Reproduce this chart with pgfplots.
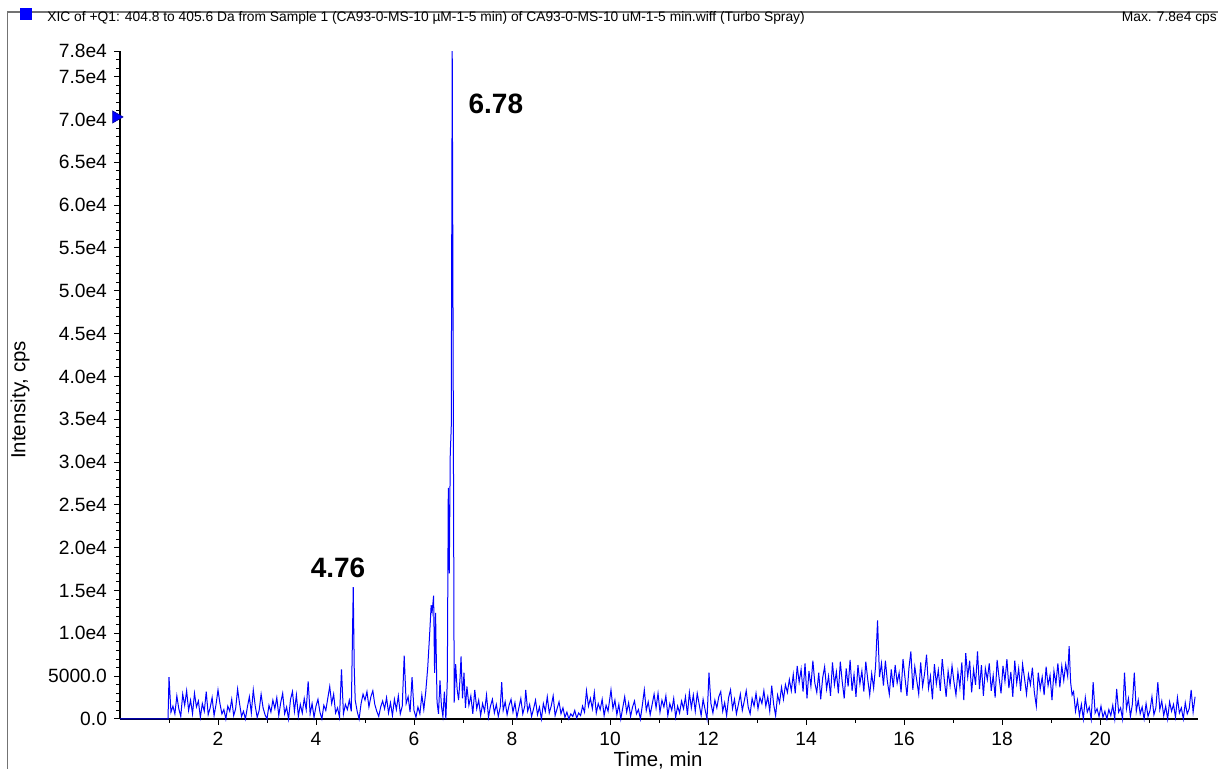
\documentclass[border=0pt]{standalone}
\usepackage{pgfplots}
\pgfplotsset{compat=1.18}
\usepackage{fontspec}
\setmainfont{Liberation Sans}
\definecolor{trace}{RGB}{0,0,255}
\begin{document}
\begin{tikzpicture}[x=1pt,y=1pt]
\useasboundingbox (0,0) rectangle (609,384.5);
\draw[black!55, line width=0.6pt] (3.75,0) -- (3.75,378.5) -- (609,378.5);
\fill[trace] (10,374.5) rectangle (16,380.5);
\node[anchor=west, inner sep=0pt, font=\fontsize{6.9}{8}\selectfont] at (23.5,375.5) {XIC of +Q1: 404.8 to 405.6 Da from Sample 1 (CA93-0-MS-10 µM-1-5 min) of CA93-0-MS-10 uM-1-5 min.wiff (Turbo Spray)};
\node[anchor=east, inner sep=0pt, font=\fontsize{6.9}{8}\selectfont] at (610.5,375.5) {Max. 7.8e4 cps.};
\begin{axis}[
  at={(60pt,25pt)}, anchor=south west,
  scale only axis, width=539pt, height=334pt,
  xmin=0, xmax=22, ymin=0, ymax=78000,
  axis x line=bottom, axis y line=left,
  axis line style={-, line width=0.6pt},
  tick align=outside,
  major tick length=3pt, minor tick length=2pt,
  tick style={black, line width=0.5pt},
  xtick={2,4,6,8,10,12,14,16,18,20},
  xticklabels={2,4,6,8,10,12,14,16,18,20},
  minor xtick={1,3,5,7,9,11,13,15,17,19,21},
  ytick={0,5000,10000,15000,20000,25000,30000,35000,40000,45000,50000,55000,60000,65000,70000,75000,78000},
  yticklabels={0.0,5000.0,1.0e4,1.5e4,2.0e4,2.5e4,3.0e4,3.5e4,4.0e4,4.5e4,5.0e4,5.5e4,6.0e4,6.5e4,7.0e4,7.5e4,7.8e4},
  minor ytick={1000,2000,...,77000},
  tick label style={font=\fontsize{9.6}{11}\selectfont},
  scaled y ticks=false,
  clip=false,
]
\addplot[trace, line width=0.5pt] coordinates {
(0,0) (0.98,0)
(1.00,4900) (1.04,800) (1.08,1500) (1.12,600) (1.16,2700) (1.20,1200) (1.24,300) (1.28,2900) (1.32,1600) (1.36,3300) (1.40,1000) (1.44,2200) (1.48,600) (1.52,3000) (1.56,1400) (1.60,2100) (1.64,200) (1.68,1800) (1.72,900) (1.76,3200) (1.80,500) (1.84,1300) (1.88,2500) (1.92,400) (1.96,1700)
(2.00,3400) (2.04,1800) (2.08,600) (2.12,1100) (2.16,0) (2.20,1500) (2.24,900) (2.28,2300) (2.32,400) (2.36,1200) (2.40,3500) (2.44,1800) (2.48,300) (2.52,900) (2.56,0) (2.60,1400) (2.64,2600) (2.68,700) (2.72,3400) (2.76,1500) (2.80,200) (2.84,1000) (2.88,2900) (2.92,1300) (2.96,500)
(3.00,0) (3.04,1600) (3.08,800) (3.12,2200) (3.16,1200) (3.20,2500) (3.24,400) (3.28,1900) (3.32,3000) (3.36,600) (3.40,1400) (3.44,0) (3.48,2300) (3.52,3200) (3.56,900) (3.60,2800) (3.64,300) (3.68,1700) (3.72,700) (3.76,2400) (3.80,1100) (3.84,4400) (3.88,600) (3.92,1800) (3.96,200)
(4.00,1500) (4.04,2300) (4.08,800) (4.12,0) (4.16,1600) (4.20,1000) (4.24,2400) (4.28,3800) (4.32,1800) (4.36,2900) (4.40,700) (4.44,1300) (4.48,200) (4.52,5800) (4.56,600) (4.60,1700) (4.64,1100) (4.68,2200) (4.72,900) (4.76,15400) (4.78,6000) (4.80,2200) (4.84,900) (4.88,0) (4.92,1800) (4.96,2900)
(5.00,2200) (5.04,3200) (5.08,1400) (5.12,2600) (5.16,3300) (5.20,1700) (5.24,900) (5.28,300) (5.32,1400) (5.36,2100) (5.40,1200) (5.44,2500) (5.48,700) (5.52,1900) (5.56,400) (5.60,2300) (5.64,1100) (5.68,2700) (5.72,600) (5.76,1500) (5.80,7400) (5.84,1800) (5.88,2600) (5.92,800) (5.96,4900)
(6.00,1000) (6.04,200) (6.08,1400) (6.12,600) (6.16,2800) (6.20,1100) (6.24,3200) (6.28,6000) (6.32,10000) (6.35,13300) (6.37,12500) (6.40,14400) (6.42,5400) (6.44,12400) (6.47,2000) (6.50,600) (6.53,4500) (6.56,1500) (6.59,300) (6.62,3200) (6.65,0) (6.68,4500) (6.70,27000) (6.72,17000) (6.74,31000) (6.76,34000) (6.78,78000) (6.80,40000) (6.82,1900) (6.85,6400) (6.88,3500) (6.91,2200) (6.94,4800) (6.96,7300) (6.99,2400)
(7.02,5400) (7.05,1300) (7.08,3800) (7.12,1600) (7.16,2700) (7.20,600) (7.24,3400) (7.28,1200) (7.32,2200) (7.36,400) (7.40,1800) (7.44,900) (7.48,2800) (7.52,200) (7.56,1500) (7.60,2300) (7.64,700) (7.68,1700) (7.72,300) (7.76,1400) (7.79,4300) (7.82,1000) (7.86,2000) (7.90,500) (7.94,1600) (7.98,2300)
(8.02,800) (8.06,1900) (8.10,200) (8.14,1300) (8.18,2400) (8.22,600) (8.26,1500) (8.28,3400) (8.32,900) (8.36,1700) (8.40,300) (8.44,1200) (8.48,2200) (8.52,500) (8.56,1400) (8.60,0) (8.64,1800) (8.68,900) (8.72,2600) (8.76,700) (8.80,1500) (8.84,2700) (8.88,400) (8.92,1200) (8.96,2000)
(9.00,600) (9.04,1300) (9.08,200) (9.12,800) (9.16,0) (9.20,600) (9.24,300) (9.28,1000) (9.32,100) (9.36,700) (9.40,400) (9.44,1500) (9.48,800) (9.52,3300) (9.56,1500) (9.60,2400) (9.64,1200) (9.68,3100) (9.72,700) (9.76,1800) (9.80,1100) (9.84,2300) (9.88,400) (9.92,1600) (9.96,900)
(10.02,3400) (10.06,1200) (10.10,2200) (10.14,500) (10.18,1700) (10.22,0) (10.26,1300) (10.30,2600) (10.34,800) (10.38,1900) (10.42,300) (10.46,1400) (10.50,2100) (10.54,600) (10.58,1100) (10.62,0) (10.66,1600) (10.70,3400) (10.74,1000) (10.78,2000) (10.82,500) (10.86,1700) (10.90,2900) (10.94,1300) (10.98,3000)
(11.02,800) (11.06,2200) (11.10,1400) (11.14,2700) (11.18,400) (11.22,1800) (11.26,1000) (11.30,2400) (11.34,200) (11.38,1500) (11.42,700) (11.46,2100) (11.50,1200) (11.54,2600) (11.58,500) (11.62,3100) (11.66,1300) (11.70,2800) (11.74,900) (11.78,3000) (11.82,1700) (11.86,400) (11.90,2300) (11.94,1100) (11.98,0)
(12.02,5400) (12.06,1800) (12.10,700) (12.14,2200) (12.18,1300) (12.22,2600) (12.26,3200) (12.30,900) (12.34,1900) (12.38,400) (12.42,2500) (12.46,3400) (12.50,1200) (12.54,2300) (12.58,600) (12.62,1700) (12.66,2900) (12.70,1000) (12.74,2100) (12.78,3300) (12.82,1400) (12.86,600) (12.90,2400) (12.94,1500) (12.98,3000)
(13.02,1200) (13.06,2500) (13.10,1800) (13.14,3300) (13.18,1500) (13.22,2600) (13.26,900) (13.30,3900) (13.34,1700) (13.38,400) (13.42,2800) (13.46,1900) (13.50,3700) (13.54,2300) (13.58,4000) (13.62,3100) (13.66,4600) (13.70,3300) (13.74,5200) (13.78,3000) (13.82,6200) (13.86,4300) (13.90,5800) (13.94,3200) (13.98,6500)
(14.02,2400) (14.06,5600) (14.10,3800) (14.14,6800) (14.18,4200) (14.22,3100) (14.26,5400) (14.30,2300) (14.34,4800) (14.38,6100) (14.42,3500) (14.46,5000) (14.50,2700) (14.54,6600) (14.58,4000) (14.62,5500) (14.66,3000) (14.70,6700) (14.74,4300) (14.78,2400) (14.82,5900) (14.86,3800) (14.90,6900) (14.94,3300) (14.98,5200)
(15.02,2600) (15.06,6300) (15.10,4100) (15.14,5600) (15.18,3200) (15.22,6700) (15.26,4600) (15.30,2800) (15.34,5300) (15.38,3600) (15.42,6200) (15.46,11500) (15.50,4900) (15.54,6500) (15.58,3900) (15.62,6800) (15.66,4400) (15.70,2900) (15.74,5800) (15.78,3700) (15.82,6300) (15.86,4200) (15.90,5400) (15.94,3100) (15.98,7000)
(16.02,4800) (16.06,2700) (16.10,5900) (16.14,7900) (16.18,3400) (16.22,6100) (16.26,4500) (16.30,2900) (16.34,6600) (16.38,3800) (16.42,5300) (16.46,7500) (16.50,3600) (16.54,5000) (16.58,2300) (16.62,6400) (16.66,4100) (16.70,5700) (16.74,3300) (16.78,7000) (16.82,4700) (16.86,2600) (16.90,5600) (16.94,3900) (16.98,6200)
(17.02,4300) (17.06,2800) (17.10,5500) (17.14,3700) (17.18,6600) (17.22,2200) (17.26,7700) (17.30,4900) (17.34,6800) (17.38,3100) (17.42,5800) (17.46,4000) (17.50,7900) (17.54,3500) (17.58,6300) (17.62,2700) (17.66,5900) (17.70,4600) (17.74,6500) (17.78,3300) (17.82,5100) (17.86,2500) (17.90,6900) (17.94,4800) (17.98,3000)
(18.02,6200) (18.06,4400) (18.10,7000) (18.14,3600) (18.18,5500) (18.22,2600) (18.26,6800) (18.30,4200) (18.34,5900) (18.38,3300) (18.42,6400) (18.46,4700) (18.50,2900) (18.54,5200) (18.58,4000) (18.62,6000) (18.66,3100) (18.70,1500) (18.74,5400) (18.78,3500) (18.82,4900) (18.86,2800) (18.90,6100) (18.94,3900) (18.98,5100)
(19.02,2200) (19.06,5600) (19.10,4100) (19.14,6500) (19.18,3700) (19.22,6200) (19.26,4500) (19.30,6400) (19.34,5000) (19.37,8500) (19.40,4300) (19.43,2800) (19.46,3200) (19.50,900) (19.54,2200) (19.58,400) (19.62,1700) (19.66,0) (19.70,2500) (19.74,800) (19.78,1400) (19.82,0) (19.86,4300) (19.90,700) (19.94,1200) (19.98,300)
(20.02,1500) (20.06,200) (20.10,900) (20.14,0) (20.18,1100) (20.22,400) (20.26,1600) (20.30,0) (20.34,3500) (20.38,800) (20.42,1300) (20.46,0) (20.50,5400) (20.54,1200) (20.58,2400) (20.62,300) (20.66,1700) (20.70,5400) (20.74,900) (20.78,2200) (20.82,600) (20.86,1400) (20.90,0) (20.94,1800) (20.98,300)
(21.02,1000) (21.06,2600) (21.10,500) (21.14,1300) (21.18,4300) (21.22,1100) (21.26,2100) (21.30,400) (21.34,1500) (21.38,0) (21.42,2000) (21.46,900) (21.50,1700) (21.54,200) (21.58,2500) (21.62,700) (21.66,1300) (21.70,0) (21.74,1900) (21.78,600) (21.82,1200) (21.86,3400) (21.90,800) (21.94,2600)
};
\addplot[only marks, mark=triangle*, mark size=3.5pt, color=trace, mark options={rotate=-90, draw=blue!60!black, line width=0.3pt}] coordinates {(-0.08,70300)};
\node[font=\bfseries\fontsize{14}{16}\selectfont] at (axis cs:7.67,71800) {6.78};
\node[font=\bfseries\fontsize{14}{16}\selectfont] at (axis cs:4.45,17600) {4.76};
\end{axis}
\node[font=\fontsize{10.2}{12}\selectfont] at (329,4.5) {Time, min};
\node[rotate=90, font=\fontsize{10.2}{12}\selectfont] at (10,184.5) {Intensity, cps};
\end{tikzpicture}
\end{document}
